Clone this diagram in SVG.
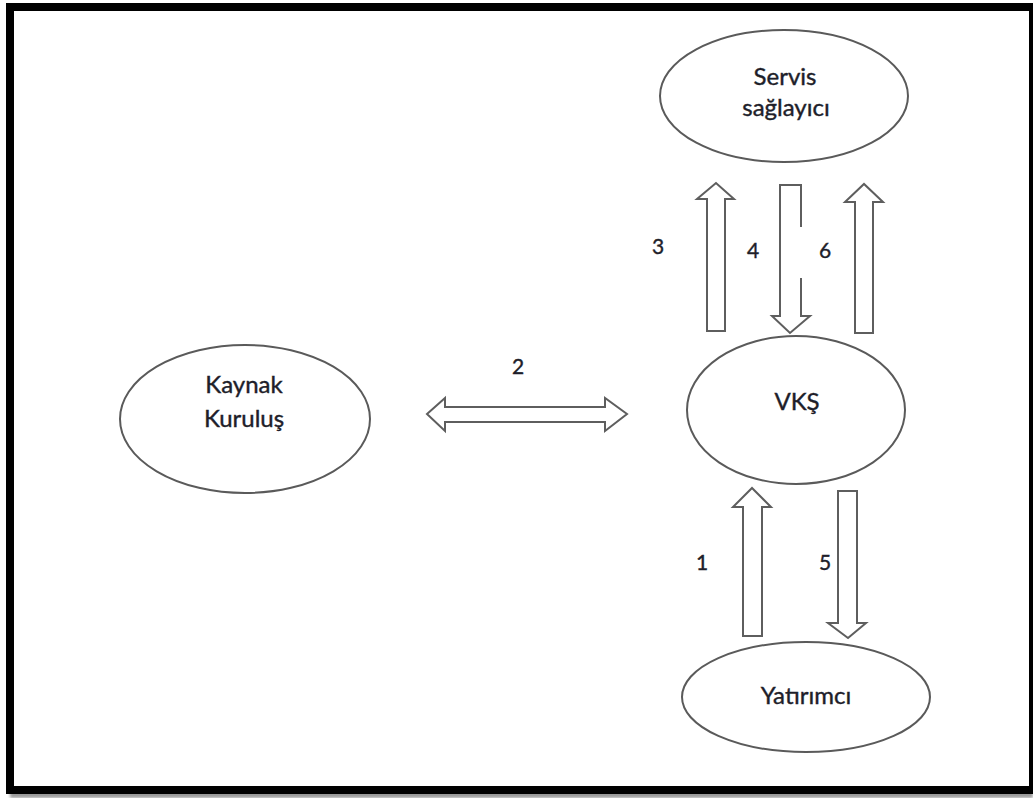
<svg xmlns="http://www.w3.org/2000/svg" width="1033" height="798" viewBox="0 0 1033 798">
  <style>
    .node { fill: #ffffff; stroke: #5a5a5a; stroke-width: 2; }
    .arrow { fill: #ffffff; stroke: #5e5e5e; stroke-width: 2; stroke-linejoin: miter; }
    .label { font-family: Lato, "Open Sans", "Liberation Sans", sans-serif; font-size: 24px; fill: #1e1e2a; stroke: #1e1e2a; stroke-width: 0.4; text-anchor: middle; }
    .num { font-family: Lato, "Open Sans", "Liberation Sans", sans-serif; font-size: 21px; fill: #1e1e2a; stroke: #1e1e2a; stroke-width: 0.4; text-anchor: middle; }
  </style>
  <defs>
    <filter id="soft" x="-5%" y="-50%" width="110%" height="200%">
      <feGaussianBlur stdDeviation="1.5"/>
    </filter>
  </defs>

  <rect width="1033" height="798" fill="#ffffff"/>

  <!-- page frame with drop shadow -->
  <g id="frame">
    <rect x="10" y="791" width="1023" height="7" fill="#9a9a9a" filter="url(#soft)"/>
    <rect x="6" y="3" width="8" height="791" fill="#000"/>
    <rect x="6" y="3" width="1027" height="8" fill="#000"/>
    <rect x="6" y="786" width="1027" height="8" fill="#000"/>
    <rect x="1029" y="3" width="4" height="791" fill="#000"/>
  </g>

  <g id="connectors">
    <!-- 3: VKŞ to Servis sağlayıcı -->
    <path id="c3" class="arrow" d="M707,331 V199 H697 L716,183 L734,199 H725 V331 Z"/>
    <!-- 4: Servis sağlayıcı to VKŞ -->
    <path id="c4" class="arrow" d="M780,185 H801 V316 H810 L790,333 L772,316 H780 Z"/>
    <rect x="798" y="227" width="6" height="51" fill="#ffffff"/>
    <!-- 6: VKŞ to Servis sağlayıcı -->
    <path id="c6" class="arrow" d="M855,333 V202 H845 L864,184 L883,202 H873 V333 Z"/>
    <!-- 2: Kaynak Kuruluş and VKŞ, both ways -->
    <path id="c2" class="arrow" d="M427,414 L445,398 V407 H605 V398 L627,414 L605,431 V422 H445 V431 Z"/>
    <!-- 1: Yatırımcı to VKŞ -->
    <path id="c1" class="arrow" d="M743,636 V507 H733 L752,488 L771,507 H762 V636 Z"/>
    <!-- 5: VKŞ to Yatırımcı -->
    <path id="c5" class="arrow" d="M838,491 H857 V623 H866 L848,638 L828,623 H838 Z"/>

    <text class="num" x="658" y="254">3</text>
    <text class="num" x="753" y="258">4</text>
    <text class="num" x="825" y="258">6</text>
    <text class="num" x="518" y="374">2</text>
    <text class="num" x="702" y="570">1</text>
    <text class="num" x="825" y="570">5</text>
  </g>

  <g id="servis-saglayici">
    <ellipse class="node" cx="784" cy="96" rx="124" ry="66"/>
    <text class="label" x="785" y="85">Servis</text>
    <text class="label" x="786" y="116">sağlayıcı</text>
  </g>

  <g id="kaynak-kurulus">
    <ellipse class="node" cx="245" cy="419" rx="125" ry="74"/>
    <text class="label" x="244" y="393">Kaynak</text>
    <text class="label" x="244" y="427">Kuruluş</text>
  </g>

  <g id="vks">
    <ellipse class="node" cx="796" cy="410" rx="109" ry="74"/>
    <text class="label" x="797" y="410">VKŞ</text>
  </g>

  <g id="yatirimci">
    <ellipse class="node" cx="806" cy="697" rx="124" ry="55"/>
    <text class="label" x="806" y="704">Yatırımcı</text>
  </g>
</svg>
